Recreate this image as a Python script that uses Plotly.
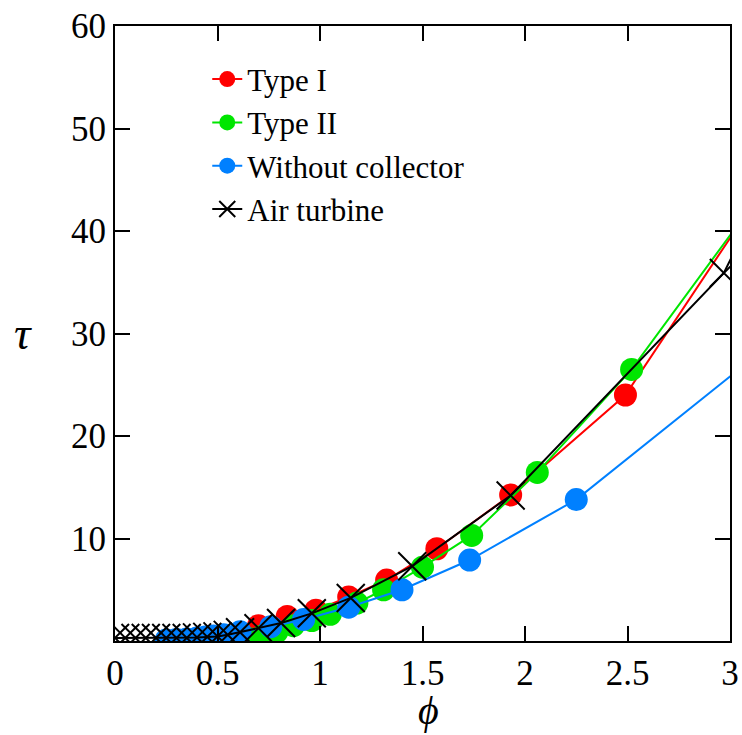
import plotly.graph_objects as go

# Type I (red)
phi_type1 = [0.47, 0.54, 0.61, 0.70, 0.84, 0.98, 1.14, 1.325, 1.57, 1.93, 2.49, 3.1]
tau_type1 = [0.0, 0.3, 0.8, 1.5, 2.4, 3.0, 4.3, 5.95, 9.0, 14.25, 24.0, 42.3]

# Type II (green)
phi_type2 = [0.60, 0.66, 0.72, 0.79, 0.87, 0.96, 1.05, 1.18, 1.31, 1.50, 1.74, 2.06, 2.52, 3.1]
tau_type2 = [0.05, 0.2, 0.5, 0.9, 1.5, 2.0, 2.6, 3.7, 5.0, 7.2, 10.3, 16.45, 26.5, 42.3]

# Without collector (blue)
phi_nocol = [0.25, 0.30, 0.35, 0.40, 0.44, 0.48, 0.53, 0.61, 0.76, 0.92, 1.14, 1.40, 1.73, 2.25, 3.1]
tau_nocol = [0.1, 0.15, 0.2, 0.3, 0.4, 0.5, 0.6, 0.9, 1.4, 2.1, 3.3, 5.0, 7.9, 13.8, 27.4]

# Air turbine (black crosses)
phi_air = [0.0, 0.05, 0.10, 0.15, 0.20, 0.25, 0.30, 0.35, 0.40, 0.45, 0.50, 0.55, 0.61,
           0.70, 0.81, 0.96, 1.15, 1.45, 1.93, 2.97, 3.1]
tau_air = [0.3, 0.3, 0.3, 0.3, 0.3, 0.3, 0.3, 0.3, 0.35, 0.4, 0.45, 0.6, 0.85,
           1.25, 1.75, 2.7, 4.2, 7.3, 14.2, 35.9, 41.2]

x_ticks = [0, 0.5, 1, 1.5, 2, 2.5, 3]
x_ticktext = ["0", "0.5", "1", "1.5", "2", "2.5", "3"]
y_ticks = [10, 20, 30, 40, 50, 60]

FONT = "Liberation Serif, Times New Roman, serif"

fig = go.Figure()
fig.add_trace(go.Scatter(x=phi_type1, y=tau_type1, name="Type I", mode="lines+markers",
                         line=dict(color="#FF0000", width=2),
                         marker=dict(color="#FF0000", size=23, symbol="circle")))
fig.add_trace(go.Scatter(x=phi_type2, y=tau_type2, name="Type II", mode="lines+markers",
                         line=dict(color="#00E600", width=2),
                         marker=dict(color="#00E600", size=23, symbol="circle")))
fig.add_trace(go.Scatter(x=phi_nocol, y=tau_nocol, name="Without collector", mode="lines+markers",
                         line=dict(color="#0080FF", width=2),
                         marker=dict(color="#0080FF", size=23, symbol="circle")))
fig.add_trace(go.Scatter(x=phi_air, y=tau_air, name="Air turbine", mode="lines+markers",
                         line=dict(color="black", width=2),
                         marker=dict(color="black", size=28, symbol="x-thin",
                                     line=dict(color="black", width=2))))

axis_common = dict(showline=True, linecolor="black", linewidth=2, mirror="ticks",
                   ticks="inside", ticklen=15, tickwidth=2, tickcolor="black",
                   showgrid=False, zeroline=False, automargin=False,
                   ticklabeloverflow="allow",
                   tickfont=dict(family=FONT, size=35, color="black"))

fig.update_xaxes(range=[0, 3], tickvals=x_ticks, ticktext=x_ticktext, **axis_common)
fig.update_yaxes(range=[0, 60], tickvals=y_ticks, **axis_common)

fig.add_annotation(text="<i>ϕ</i>", xref="paper", yref="paper", x=0.51, y=-0.113,
                   xanchor="center", yanchor="middle",
                   showarrow=False, font=dict(family=FONT, size=40, color="black"))
fig.add_annotation(text="<i>τ</i>", xref="paper", yref="paper", x=-0.15, y=0.50,
                   xanchor="center", yanchor="middle",
                   showarrow=False, font=dict(family=FONT, size=46, color="black"))

fig.update_layout(
    width=742, height=735,
    margin=dict(l=115, r=12, t=26, b=94),
    plot_bgcolor="white", paper_bgcolor="white",
    legend=dict(x=0.15, y=0.957, xanchor="left", yanchor="top",
                bgcolor="rgba(0,0,0,0)", font=dict(family=FONT, size=31, color="black"),
                tracegroupgap=0, itemwidth=30),
    showlegend=True,
)

fig.write_html("out.html", config={"displayModeBar": False},
               post_script="document.body.style.margin='0';document.body.style.overflow='hidden';")
